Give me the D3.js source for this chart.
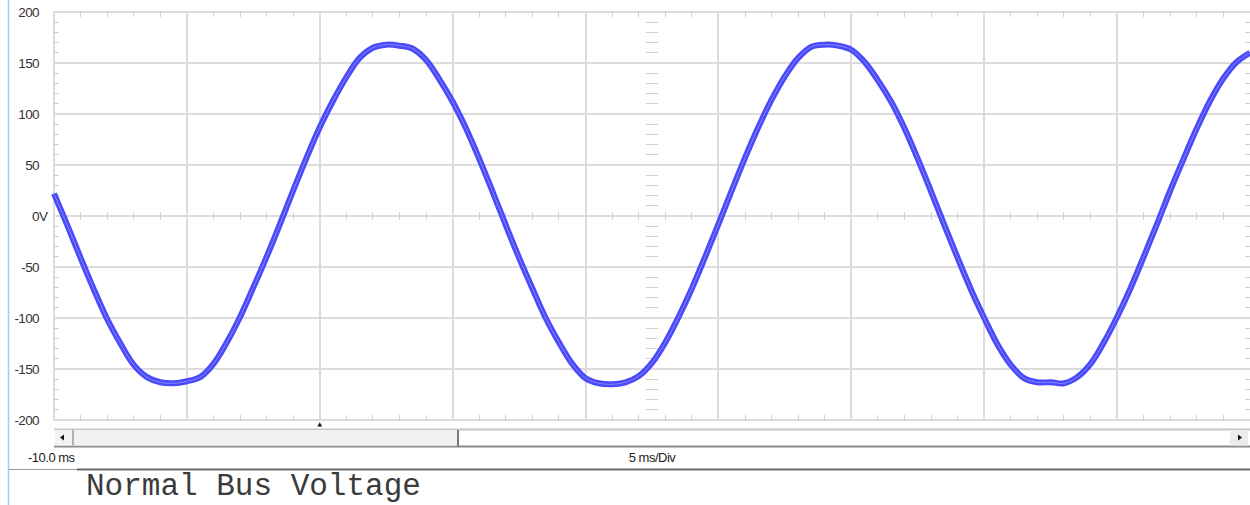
<!DOCTYPE html>
<html>
<meta charset="utf-8">
<style>
  body { margin: 0; background: #fff; }
  svg { display: block; }
  .grid { stroke: #dcdcdc; stroke-width: 2; shape-rendering: crispEdges; }
  .minor { stroke: #cfcfcf; stroke-width: 1; shape-rendering: crispEdges; }
  .ylab { font-family: "Liberation Sans", Arial, sans-serif; font-size: 13.5px; fill: #333; letter-spacing: -0.6px; }
  .xlab { font-family: "Liberation Sans", Arial, sans-serif; font-size: 13px; fill: #222; letter-spacing: -0.5px; }
</style>
<body>
  <svg width="1250" height="505"></svg>
</body>

<script src="https://d3js.org/d3.v7.min.js"></script>

<script>
  // time axis: -10 ms start, 0.5 ms per sample, 5 ms/Div
  var tStart = -10, tStep = 0.5;
  var timeDomain = [-10, 35];
  var divTimes = [-5, 0, 5, 10, 15, 20, 25, 30];
  var voltTicks = [200, 150, 100, 50, 0, -50, -100, -150, -200];
  var voltLabels = ["200", "150", "100", "50", "0", "-50", "-100", "-150", "-200"];
  var startLabel = "-10.0 ms";
  var divLabel = "5 ms/Div";
  var title = "Normal Bus Voltage";

  // bus voltage (V), every 0.5 ms
  var voltage = [
    22, -9, -41, -72, -101, -125, -146, -158, -163, -164, -162, -158, -145, -124, -99, -70, -40, -8,
    25, 57, 87, 113, 136, 155, 165, 168, 167, 164, 153, 134, 112, 86, 56,
    24, -9, -41, -71, -100, -124, -145, -159, -164, -165, -163, -157, -144, -124, -99, -71, -40, -8,
    25, 57, 87, 114, 137, 155, 166, 168, 167, 163, 151, 133, 112, 86, 56,
    24, -9, -41, -72, -100, -126, -146, -159, -163, -163, -164, -158, -145, -124, -99, -71, -40, -8,
    25, 56, 86, 113, 135, 151, 160
  ];

  var svg = d3.select("svg");

  var x = d3.scaleLinear().domain(timeDomain).range([54, 1250]);
  var y = d3.scaleLinear().domain([-200, 200]).range([420, 12]);

  // window frame line on the left
  svg.append("line").attr("x1", 8.5).attr("x2", 8.5).attr("y1", 0).attr("y2", 505)
    .attr("stroke", "#a9cbe9").attr("stroke-width", 1.5);

  var plot = svg.append("g");

  // GRID
  plot.selectAll(".hgrid").data(voltTicks).enter().append("line")
    .attr("class", "grid")
    .attr("x1", x(timeDomain[0])).attr("x2", x(timeDomain[1]))
    .attr("y1", y).attr("y2", y);

  plot.selectAll(".vgrid").data([-10].concat(divTimes)).enter().append("line")
    .attr("class", "grid")
    .attr("x1", x).attr("x2", x)
    .attr("y1", y(200)).attr("y2", y(-200));

  // MINOR TICKS (1 ms, 10 V)
  var minorT = d3.range(-9, 35, 1).filter(function(t){ return (t + 10) % 5 != 0; });
  var minorV = d3.range(-190, 200, 10).filter(function(v){ return v % 50 != 0; });
  var midT = (timeDomain[0] + timeDomain[1]) / 2;

  minorT.forEach(function(t){
    plot.append("line").attr("class", "minor").attr("x1", x(t)).attr("x2", x(t)).attr("y1", y(200)).attr("y2", y(200) + 5);
    plot.append("line").attr("class", "minor").attr("x1", x(t)).attr("x2", x(t)).attr("y1", y(-200)).attr("y2", y(-200) - 5);
    plot.append("line").attr("class", "minor").attr("x1", x(t)).attr("x2", x(t)).attr("y1", y(0) - 4).attr("y2", y(0) + 4);
  });
  minorV.forEach(function(v){
    plot.append("line").attr("class", "minor").attr("x1", x(-10)).attr("x2", x(-10) + 5).attr("y1", y(v)).attr("y2", y(v));
    plot.append("line").attr("class", "minor").attr("x1", x(35) - 5).attr("x2", x(35)).attr("y1", y(v)).attr("y2", y(v));
    plot.append("line").attr("class", "minor").attr("x1", x(midT) - 6).attr("x2", x(midT) + 6).attr("y1", y(v)).attr("y2", y(v));
  });

  // Y LABELS
  plot.selectAll(".ylab").data(voltTicks).enter().append("text")
    .attr("class", "ylab")
    .attr("x", 39)
    .attr("y", function(d){ return y(d) + 5; })
    .attr("text-anchor", "end")
    .text(function(d, i){ return voltLabels[i]; });
  plot.append("text").attr("class", "ylab").attr("x", 39).attr("y", y(0) + 5).text("V");

  // TRACE
  var line = d3.line()
    .x(function(d, i){ return x(tStart + i * tStep); })
    .y(function(d){ return y(d); })
    .curve(d3.curveCatmullRom);

  plot.append("path").datum(voltage)
    .attr("d", line).attr("fill", "none")
    .attr("stroke", "#4a4afc").attr("stroke-width", 6)
    .attr("stroke-linejoin", "round");
  plot.append("path").datum(voltage)
    .attr("d", line).attr("fill", "none")
    .attr("stroke", "#8585fb").attr("stroke-width", 1);

  // SCROLLBAR
  var sb = svg.append("g");
  sb.append("rect").attr("x", 54).attr("y", 428).attr("width", 1196).attr("height", 19).attr("fill", "#fff");
  sb.append("line").attr("x1", 54).attr("x2", 1250).attr("y1", 429.5).attr("y2", 429.5).attr("stroke", "#c8c8c8").attr("stroke-width", 2);
  sb.append("line").attr("x1", 54).attr("x2", 1250).attr("y1", 446.5).attr("y2", 446.5).attr("stroke", "#8a8a8a").attr("stroke-width", 2);
  sb.append("rect").attr("x", 73).attr("y", 430).attr("width", 385).attr("height", 15.5).attr("fill", "#f1f1f1");
  sb.append("line").attr("x1", 458).attr("x2", 458).attr("y1", 430).attr("y2", 447).attr("stroke", "#7a7a7a").attr("stroke-width", 2);
  sb.append("line").attr("x1", 73).attr("x2", 73).attr("y1", 430).attr("y2", 445).attr("stroke", "#9a9a9a").attr("stroke-width", 1.5);
  sb.append("rect").attr("x", 55).attr("y", 430).attr("width", 17).attr("height", 15.5).attr("fill", "#f3f3f3");
  sb.append("rect").attr("x", 1230).attr("y", 430).attr("width", 18).attr("height", 15.5).attr("fill", "#ececec");
  sb.append("path").attr("d", "M60,437.5 L64,434.5 L64,440.5 Z").attr("fill", "#111");
  sb.append("path").attr("d", "M1242,437.5 L1238,434.5 L1238,440.5 Z").attr("fill", "#111");
  // trigger marker at t = 0
  sb.append("path").attr("d", d3.symbol().type(d3.symbolTriangle).size(10)())
    .attr("transform", "translate(" + x(0) + ",425)").attr("fill", "#111");

  // BOTTOM LABELS
  svg.append("text").attr("class", "xlab").attr("x", 28).attr("y", 462).text(startLabel);
  svg.append("text").attr("class", "xlab").attr("x", x(midT)).attr("y", 462).attr("text-anchor", "middle").text(divLabel);

  svg.append("line").attr("x1", 9).attr("x2", 77).attr("y1", 469.5).attr("y2", 469.5).attr("stroke", "#9a9a9a").attr("stroke-width", 1);
  svg.append("line").attr("x1", 77).attr("x2", 1250).attr("y1", 469.5).attr("y2", 469.5).attr("stroke", "#6a6a6a").attr("stroke-width", 2);

  // TITLE
  svg.append("text")
    .attr("x", 86).attr("y", 495)
    .attr("font-family", "'Liberation Mono', 'Courier New', monospace")
    .attr("font-size", "31px")
    .attr("fill", "#3b3b3b")
    .text(title);
</script>
</html>
